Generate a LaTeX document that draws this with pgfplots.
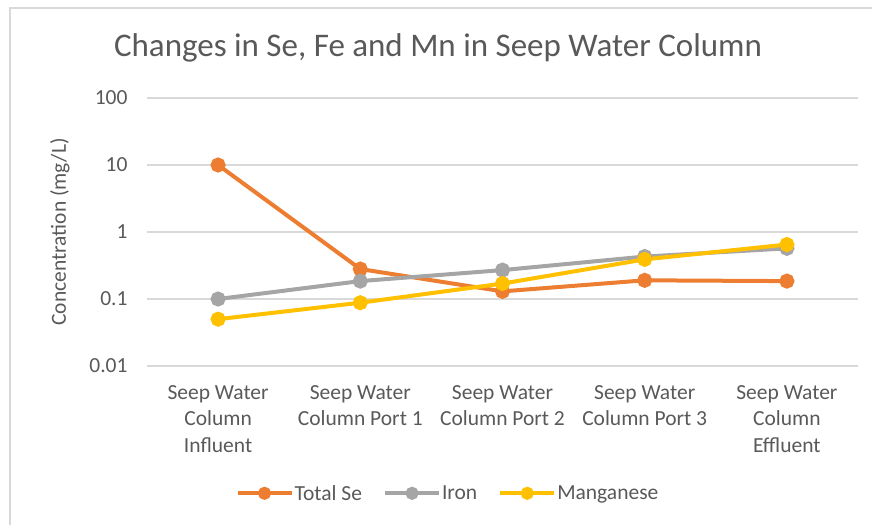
\documentclass[border=0pt]{standalone}
\usepackage{pgfplots}
\pgfplotsset{compat=1.18}
\usepackage{fontspec}
\setmainfont{Carlito}
\definecolor{seorange}{HTML}{ED7D31}
\definecolor{fegray}{HTML}{A5A5A5}
\definecolor{mngold}{HTML}{FFC000}
\definecolor{txtgray}{HTML}{595959}
\definecolor{gridgray}{HTML}{D9D9D9}
\begin{document}
\begin{tikzpicture}
\path[use as bounding box] (0bp,0bp) rectangle (872bp,525bp);
\draw[gridgray, line width=1.2bp] (10bp,0bp) -- (10bp,517bp) -- (872bp,517bp);
\node[txtgray, font=\fontsize{33bp}{38bp}\selectfont] at (438bp,477bp) {Changes in Se, Fe and Mn in Seep Water Column};
\begin{axis}[
  at={(147bp,159bp)}, anchor=south west,
  scale only axis, width=711bp, height=268bp,
  ymode=log, ymin=0.01, ymax=100,
  xmin=-0.5, xmax=4.5,
  xtick={0,1,2,3,4},
  xticklabels={{Seep Water\\Column\\Influent},{Seep Water\\Column Port 1},{Seep Water\\Column Port 2},{Seep Water\\Column Port 3},{Seep Water\\Column\\Effluent}},
  xticklabel style={align=center, text=txtgray, font=\fontsize{21.5bp}{26.5bp}\selectfont, yshift=-16bp},
  ytick={0.01,0.1,1,10,100},
  yticklabels={0.01,0.1,1,10,100},
  yticklabel style={text=txtgray, font=\fontsize{21.5bp}{24bp}\selectfont, xshift=-16bp},
  ymajorgrids, major grid style={gridgray, line width=1.2bp},
  separate axis lines,
  axis x line*=bottom, axis y line*=left,
  x axis line style={draw=gridgray, line width=1.2bp, -},
  y axis line style={draw=none},
  major tick length=0pt, minor tick length=0pt,
  ylabel={Concentration (mg/L)},
  ylabel style={text=txtgray, font=\fontsize{21.5bp}{24bp}\selectfont},
  y label style={at={(axis description cs:-0.1224,0.5)}, anchor=center, rotate=0},
  every axis plot/.append style={line width=4bp, mark=*, mark size=5.5bp},
  legend style={at={(0.4226,-0.475)}, anchor=center, draw=none, fill=none, legend columns=3,
    font=\fontsize{21.5bp}{24bp}\selectfont, text=txtgray, column sep=0bp,
    nodes={inner xsep=1bp},
    /tikz/every even column/.append style={column sep=20bp}},
  legend image code/.code={
    \draw[#1, mark=none] (0bp,0bp) -- (54bp,0bp);
    \draw[#1, only marks, mark size=4.5bp] plot coordinates {(27bp,0bp)};
  },
]
\addplot[color=seorange, mark options={fill=seorange}] coordinates {(0,10) (1,0.28) (2,0.13) (3,0.19) (4,0.185)};
\addlegendentry{Total Se}
\addplot[color=fegray, mark options={fill=fegray}] coordinates {(0,0.1) (1,0.185) (2,0.27) (3,0.43) (4,0.57)};
\addlegendentry{Iron}
\addplot[color=mngold, mark options={fill=mngold}] coordinates {(0,0.05) (1,0.088) (2,0.17) (3,0.39) (4,0.65)};
\addlegendentry{Manganese}
\end{axis}
\end{tikzpicture}
\end{document}
